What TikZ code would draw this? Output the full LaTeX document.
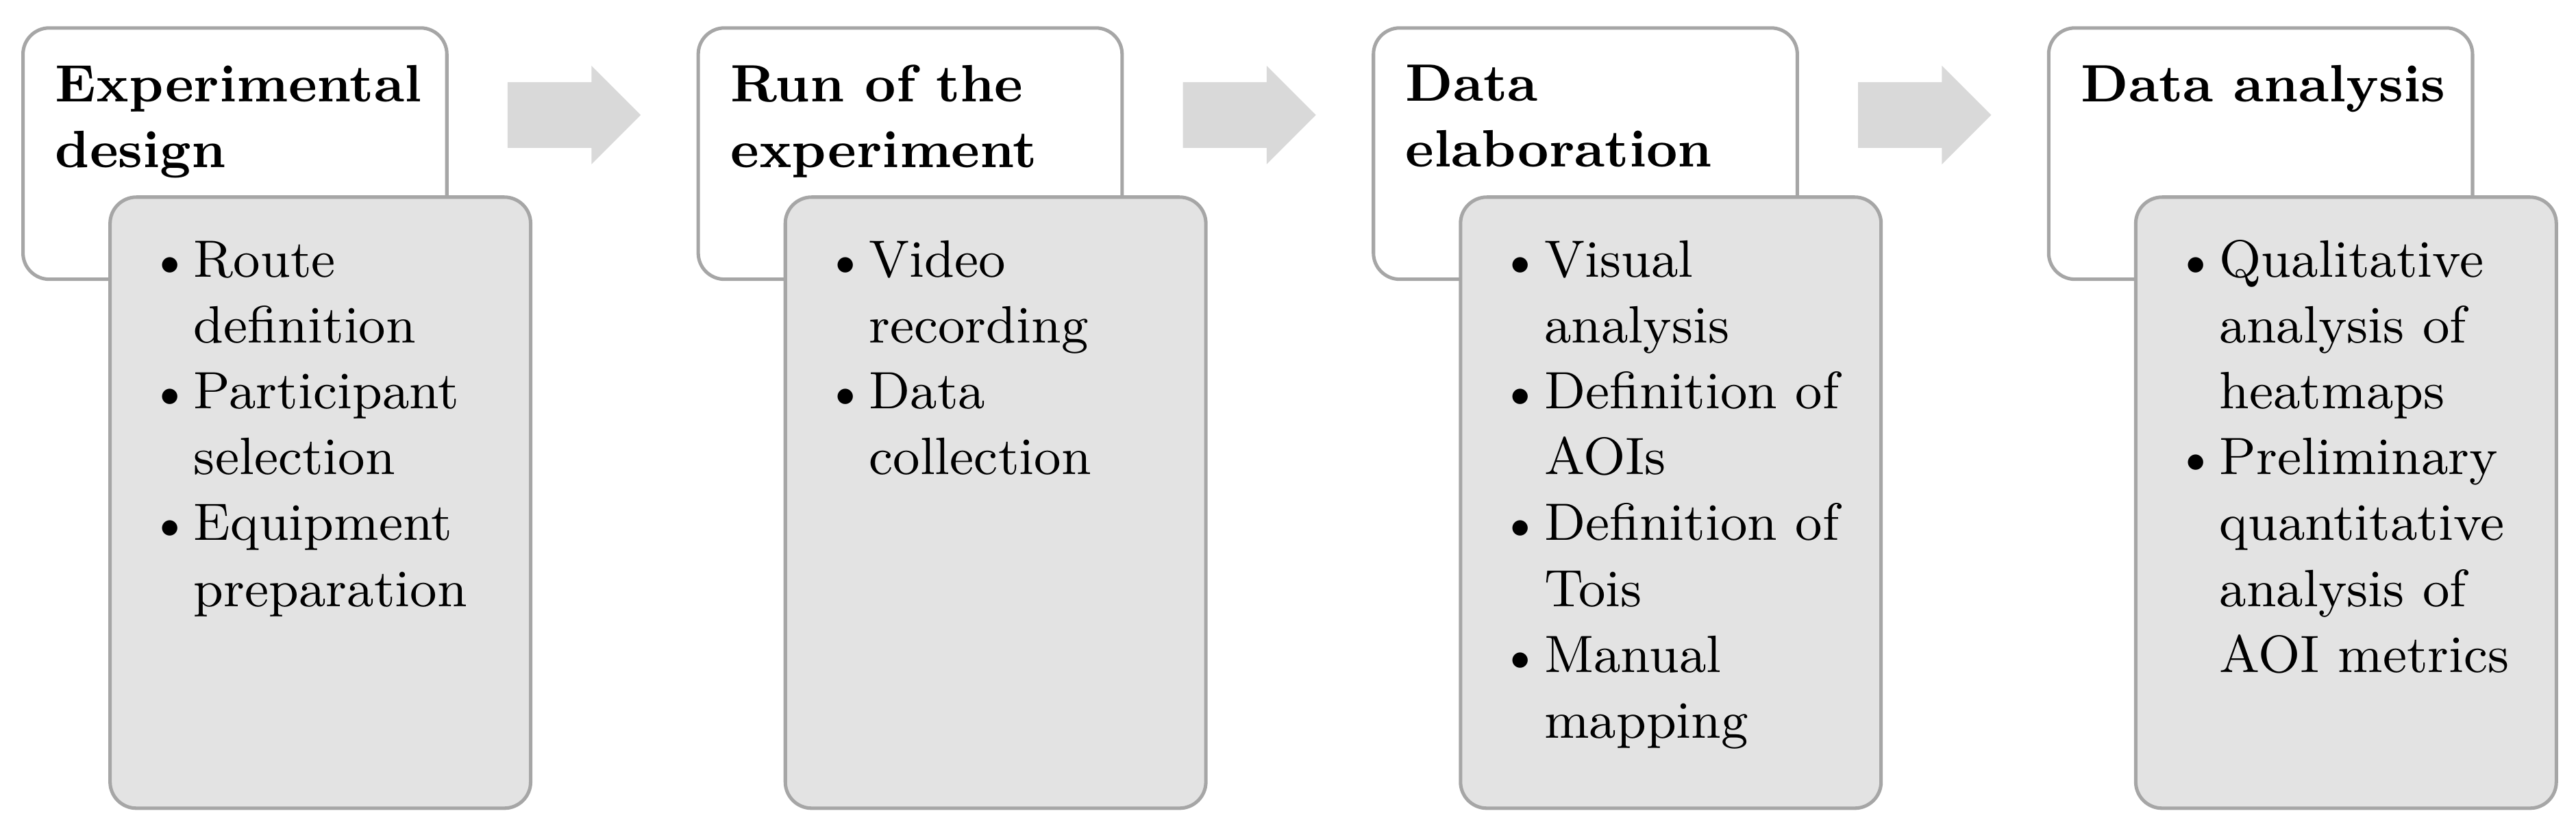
\documentclass[tikz,border=0pt]{standalone}
\definecolor{bord}{HTML}{A6A6A6}
\definecolor{gfill}{HTML}{E3E3E3}
\definecolor{afill}{HTML}{D9D9D9}
\begin{document}
\begin{tikzpicture}[
  top/.style={draw=bord,line width=0.6pt,fill=white,rounded corners=0.16cm},
  sub/.style={draw=bord,line width=0.6pt,fill=gfill,rounded corners=0.16cm},
  ttl/.style={anchor=north west,inner sep=0pt,align=left,font=\fontsize{9.1}{11.4}\selectfont\bfseries},
  lst/.style={anchor=north west,inner sep=0pt,font=\fontsize{9.1}{11.4}\selectfont},
  arr/.style={fill=afill,draw=none}
]
\useasboundingbox (0,0) rectangle (15.68,5.07);
\newcommand{\stage}[4]{%
  \path[top] (#1+0.14,3.37) rectangle (#1+2.72,4.90);
  \path[sub] (#1+0.67,0.15) rectangle (#1+3.23,3.87);
  \node[ttl] (t#2) at (#1+0.33,4.68) {#3};
  \node[lst] (l#2) at (#1+0.90,3.67) {\begin{tabular}{@{}l@{\hspace{0.5pt}}l@{}}#4\end{tabular}};
}
\newcommand{\blockarrow}[1]{%
  \path[arr] (#1+3.09,4.57) -- (#1+3.60,4.57) -- (#1+3.60,4.67) -- (#1+3.90,4.37)
    -- (#1+3.60,4.07) -- (#1+3.60,4.17) -- (#1+3.09,4.17) -- cycle;
}
\stage{0}{1}{Experimental\\design}{\textbullet&Route\\&definition\\\textbullet&Participant\\&selection\\\textbullet&Equipment\\&preparation}
\stage{4.11}{2}{Run of the\\experiment}{\textbullet&Video\\&recording\\\textbullet&Data\\&collection}
\stage{8.22}{3}{Data\\elaboration}{\textbullet&Visual\\&analysis\\\textbullet&Definition of\\&AOIs\\\textbullet&Definition of\\&Tois\\\textbullet&Manual\\&mapping}
\stage{12.33}{4}{Data analysis}{\textbullet&Qualitative\\&analysis of\\&heatmaps\\\textbullet&Preliminary\\&quantitative\\&analysis of\\&AOI metrics}
\blockarrow{0}
\blockarrow{4.11}
\blockarrow{8.22}
\end{tikzpicture}
\end{document}
